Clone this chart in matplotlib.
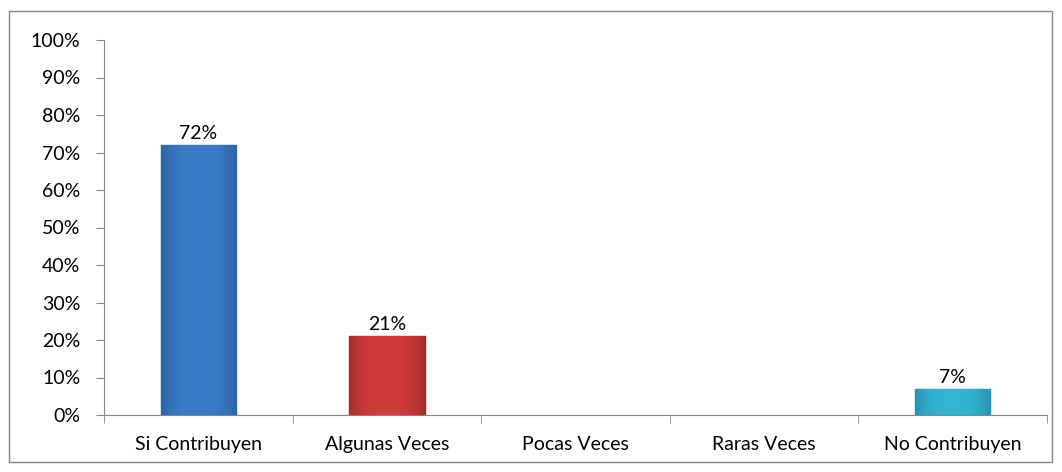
import matplotlib.pyplot as plt
from matplotlib.patches import Rectangle
from matplotlib.ticker import PercentFormatter
from matplotlib.colors import LinearSegmentedColormap
import numpy as np

categories = ['Si Contribuyen', 'Algunas Veces', 'Pocas Veces', 'Raras Veces', 'No Contribuyen']
values = [72, 21, 0, 0, 7]
colors = ['#3A7BC8', '#D03B3B', '#4F81BD', '#4F81BD', '#35B3D3']
edges = ['#2A5C97', '#9A2A2A', '#2A5C97', '#2A5C97', '#2389A3']

plt.rcParams['font.family'] = ['Lato', 'DejaVu Sans']

fig = plt.figure(figsize=(10.62, 4.72), dpi=100)
fig.patches.append(Rectangle((9 / 1062, 1 - 462 / 472), 1043 / 1062, 451 / 472,
                             transform=fig.transFigure, fill=False,
                             edgecolor='#868686', linewidth=1))
ax = fig.add_axes([104 / 1062, 1 - 415 / 472, 943 / 1062, 375 / 472])

x = np.arange(len(categories))
lw = [1 if v > 0 else 0 for v in values]
bars = ax.bar(x, values, width=0.4, color=colors, edgecolor=edges, linewidth=lw)

# soft horizontal shading inside each bar (bevel look)
grad = np.abs(np.linspace(-1, 1, 64))[None, :] ** 3
for b, c, e, v in zip(bars, colors, edges, values):
    if v <= 0:
        continue
    cmap = LinearSegmentedColormap.from_list('bev', [c, e])
    im = ax.imshow(grad, cmap=cmap, aspect='auto', vmin=0, vmax=1.3,
                   extent=[b.get_x(), b.get_x() + b.get_width(), 0, v], zorder=b.get_zorder())
    im.set_clip_path(b)
    ax.text(b.get_x() + b.get_width() / 2, v + 0.8, f'{v}%',
            ha='center', va='bottom', fontsize=14)

ax.set_xlim(-0.5, len(categories) - 0.5)
ax.set_ylim(0, 100)
ax.set_yticks(range(0, 101, 10))
ax.yaxis.set_major_formatter(PercentFormatter(decimals=0))
ax.set_xticks(x)
ax.set_xticklabels(categories, fontsize=14)
ax.set_xticks(np.arange(-0.5, len(categories)), minor=True)
ax.tick_params(axis='x', which='major', length=0, pad=15)
ax.tick_params(axis='x', which='minor', length=6, color='#868686')
ax.tick_params(axis='y', length=6, color='#868686', labelsize=14, pad=11)

for s in ['top', 'right']:
    ax.spines[s].set_visible(False)
for s in ['left', 'bottom']:
    ax.spines[s].set_color('#868686')

fig.savefig('out.png', dpi=100)
